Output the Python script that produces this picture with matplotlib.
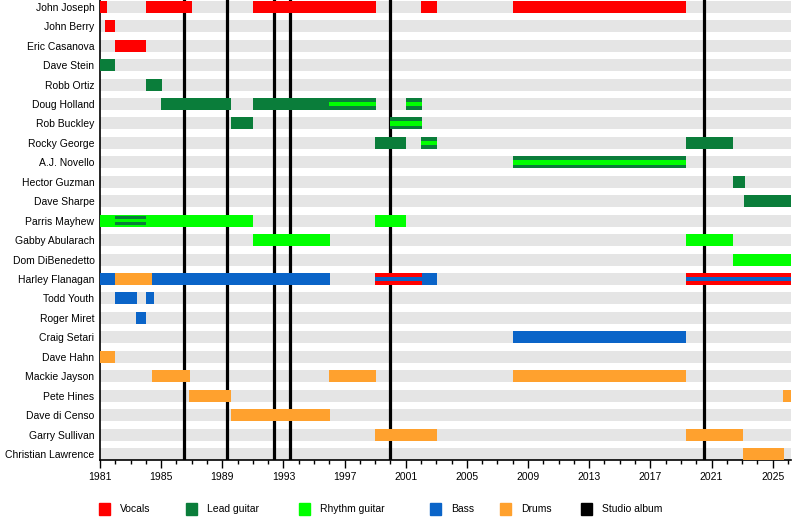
import matplotlib
matplotlib.use("Agg")
import matplotlib.pyplot as plt
from matplotlib.patches import Rectangle
from matplotlib.ticker import MultipleLocator, FixedLocator

plt.rcParams['font.family'] = ['Liberation Sans', 'DejaVu Sans']

members = ["John Joseph", "John Berry", "Eric Casanova", "Dave Stein", "Robb Ortiz",
           "Doug Holland", "Rob Buckley", "Rocky George", "A.J. Novello", "Hector Guzman",
           "Dave Sharpe", "Parris Mayhew", "Gabby Abularach", "Dom DiBenedetto",
           "Harley Flanagan", "Todd Youth", "Roger Miret", "Craig Setari", "Dave Hahn",
           "Mackie Jayson", "Pete Hines", "Dave di Censo", "Garry Sullivan",
           "Christian Lawrence"]

# (member, start, end)
vocals = [("John Joseph", 1981.0, 1981.45), ("John Joseph", 1984.0, 1987.0),
          ("John Joseph", 1991.0, 1999.05), ("John Joseph", 2002.0, 2003.05),
          ("John Joseph", 2008.0, 2019.35), ("John Berry", 1981.35, 1982.0),
          ("Eric Casanova", 1982.0, 1984.0), ("Harley Flanagan", 1987.0, 1991.0),
          ("Harley Flanagan", 1999.0, 2002.05), ("Harley Flanagan", 2019.3, 2026.2)]

lead = [("Dave Stein", 1981.0, 1982.0), ("Robb Ortiz", 1984.0, 1985.05),
        ("Doug Holland", 1985.0, 1989.6), ("Doug Holland", 1991.0, 1999.05),
        ("Doug Holland", 2001.0, 2002.05), ("Rob Buckley", 1989.6, 1991.0),
        ("Rob Buckley", 2000.0, 2002.05), ("Rocky George", 1999.0, 2001.0),
        ("Rocky George", 2002.0, 2003.05), ("Rocky George", 2019.3, 2022.4),
        ("A.J. Novello", 2008.0, 2019.35), ("Hector Guzman", 2022.4, 2023.2),
        ("Dave Sharpe", 2023.15, 2026.2)]

rhythm = [("Parris Mayhew", 1981.0, 1991.0), ("Parris Mayhew", 1999.0, 2001.0),
          ("Gabby Abularach", 1991.0, 1996.05), ("Gabby Abularach", 2019.3, 2022.4),
          ("Dom DiBenedetto", 2022.4, 2026.2)]

bass = [("Harley Flanagan", 1981.0, 1982.0), ("Harley Flanagan", 1984.4, 1996.05),
        ("Harley Flanagan", 2002.05, 2003.05), ("Todd Youth", 1982.0, 1983.4),
        ("Todd Youth", 1984.0, 1984.5), ("Roger Miret", 1983.35, 1984.0),
        ("Craig Setari", 2008.0, 2019.35)]

drums = [("Harley Flanagan", 1982.0, 1984.4), ("Dave Hahn", 1981.0, 1982.0),
         ("Mackie Jayson", 1984.4, 1986.9), ("Mackie Jayson", 1996.0, 1999.05),
         ("Mackie Jayson", 2008.0, 2019.35), ("Pete Hines", 1986.8, 1989.6),
         ("Pete Hines", 2025.7, 2026.2), ("Dave di Censo", 1989.6, 1996.05),
         ("Garry Sullivan", 1999.0, 2003.05), ("Garry Sullivan", 2019.3, 2023.05),
         ("Christian Lawrence", 2023.05, 2025.75)]

# secondary roles drawn as thinner bars inside the main one
lead_inner = [("Parris Mayhew", 1982.0, 1984.0)]
rhythm_stripe = [("Doug Holland", 1996.0, 1999.05), ("Doug Holland", 2001.0, 2002.05),
                 ("Rob Buckley", 2000.0, 2002.05), ("Rocky George", 2002.0, 2003.05),
                 ("A.J. Novello", 2008.0, 2019.35)]
rhythm_stripe_inner = [("Parris Mayhew", 1982.0, 1984.0)]
bass_stripe = [("Harley Flanagan", 1987.0, 1991.0), ("Harley Flanagan", 1999.0, 2002.05),
               ("Harley Flanagan", 2019.3, 2026.2)]

albums = [1986.5, 1989.33, 1992.4, 1993.4, 2000.0, 2020.5]

legend_names = ["Vocals", "Lead guitar", "Rhythm guitar", "Bass", "Drums", "Studio album"]
legend_colors = ["#ff0000", "#0a7d3a", "#00ff00", "#0a64c8", "#ffa12e", "#000000"]

start_year, end_year = 1981.0, 2026.2
row = {m: i for i, m in enumerate(members)}
H = 0.62

fig = plt.figure(figsize=(8, 5.2), dpi=100)
ax = fig.add_axes([100 / 800, 60 / 520, 691 / 800, 460 / 520])

# grey background rows
for m in members:
    ax.barh(row[m], end_year - start_year, left=start_year, height=H,
            color="#e5e5e5", zorder=1, linewidth=0)

for x in albums:
    ax.axvline(x, color="black", lw=2.3, zorder=2)


def draw(segs, color, h, z):
    for m, s, e in segs:
        ax.barh(row[m], e - s, left=s, height=h, color=color, zorder=z, linewidth=0)


draw(vocals, legend_colors[0], H, 3)
draw(lead, legend_colors[1], H, 3)
draw(rhythm, legend_colors[2], H, 3)
draw(bass, legend_colors[3], H, 3)
draw(drums, legend_colors[4], H, 3)
draw(lead_inner, legend_colors[1], H * 0.8, 4)
draw(rhythm_stripe, legend_colors[2], H * 0.38, 5)
draw(rhythm_stripe_inner, legend_colors[2], H * 0.3, 5)
draw(bass_stripe, legend_colors[3], H * 0.38, 5)

ax.set_xlim(start_year, end_year)
ax.set_ylim(23.31, -0.35)
ax.set_yticks(range(len(members)))
ax.set_yticklabels(members, fontsize=7.5)
ax.tick_params(axis="y", length=0, pad=4)

ax.xaxis.set_major_locator(FixedLocator(list(range(1981, 2027, 4))))
ax.xaxis.set_minor_locator(MultipleLocator(1))
ax.set_xticklabels([str(y) for y in range(1981, 2027, 4)], fontsize=7.5)
ax.tick_params(axis="x", which="major", length=6, width=1, direction="out", pad=3)
ax.tick_params(axis="x", which="minor", length=3, width=1, direction="out")

for s in ["top", "right"]:
    ax.spines[s].set_visible(False)
ax.spines["left"].set_linewidth(1.2)
ax.spines["bottom"].set_linewidth(1.2)

# legend along the bottom
legend_x = [99, 186, 299, 430, 500, 581]
for x, name, c in zip(legend_x, legend_names, legend_colors):
    fig.add_artist(Rectangle((x / 800, 5 / 520), 11 / 800, 12 / 520,
                             transform=fig.transFigure, color=c))
    fig.text((x + 21) / 800, 11 / 520, name, fontsize=7.5, va="center", ha="left")

fig.savefig("out.png", dpi=100)
